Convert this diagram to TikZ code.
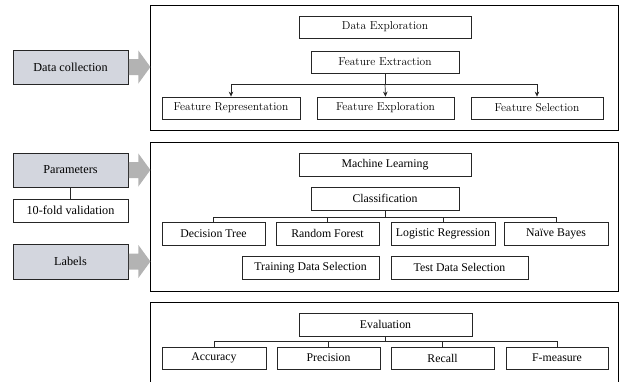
\documentclass[tikz,border=0pt]{standalone}
\usepackage{fontspec}
\newfontfamily\timesf{Liberation Serif}
\usetikzlibrary{calc,arrows.meta}
\begin{document}
\begin{tikzpicture}[x=1pt,y=-1pt,
  panel/.style={draw=black,line width=0.8pt},
  lmbox/.style={draw=black!85,line width=0.8pt,fill=white,inner sep=0pt,minimum height=22pt,font=\fontsize{11.5}{13}\selectfont},
  tbox/.style={draw=black!85,line width=0.8pt,fill=white,inner sep=0pt,minimum height=23pt,font=\timesf\fontsize{11.8}{13}\selectfont},
  graybox/.style={tbox,fill=boxgray,minimum width=115pt,font=\timesf\fontsize{12.2}{14}\selectfont},
  conn/.style={draw=black!85,line width=0.7pt},
  arr/.style={conn,-{Stealth[length=5pt,width=4.5pt]}},
  bigarrow/.style={fill=arrowgray,draw=none}
]
\definecolor{boxgray}{HTML}{D3D6DE}
\definecolor{arrowgray}{HTML}{B3B3B3}
\useasboundingbox (0,0) rectangle (623,381);

% panels
\draw[panel] (150,5) rectangle (618,130);
\draw[panel] (150,142) rectangle (618,291);
\draw[panel] (150,390) -- (150,302) -- (618,302) -- (618,390);

% top panel
\node[lmbox,minimum width=172pt] (de) at (385,27) {Data Exploration};
\node[lmbox,minimum width=148pt] (fx) at (385,62) {Feature Extraction};
\node[lmbox,minimum width=138pt] (fr) at (231,108) {Feature Representation};
\node[lmbox,minimum width=137pt] (fe) at (385.5,108) {Feature Exploration};
\node[lmbox,minimum width=132pt] (fs) at (537,108) {Feature Selection};
\coordinate (fxj) at (385,84);
\draw[conn] (fx.south) -- (fxj);
\draw[arr] (fxj) -| (fr.north);
\draw[arr] (fxj) -- (fe.north);
\draw[arr] (fxj) -| (fs.north);

% middle panel
\node[tbox,minimum width=172pt] (ml) at (385,164.5) {Machine Learning};
\node[tbox,minimum width=148pt] (cl) at (385,198.5) {Classification};
\node[tbox,minimum width=103pt] (dt) at (213.5,233.5) {Decision Tree};
\node[tbox,minimum width=103pt] (rf) at (327.5,233.5) {Random Forest};
\node[tbox,minimum width=104pt] (lr) at (443,233.5) {Logistic Regression};
\node[tbox,minimum width=104pt] (nb) at (556,233.5) {Naïve Bayes};
\node[tbox,minimum width=137pt] (tr) at (310.5,267.5) {Training Data Selection};
\node[tbox,minimum width=137pt] (te) at (459.5,267.5) {Test Data Selection};
\coordinate (clj) at (385,217);
\draw[conn] (cl.south) -- (clj);
\draw[conn] (clj) -| (dt.north);
\draw[conn] (clj) -| (rf.north);
\draw[conn] (clj) -| (lr.north);
\draw[conn] (clj) -| (nb.north);

% bottom panel
\node[tbox,minimum width=173pt] (ev) at (385.5,324.5) {Evaluation};
\node[tbox,minimum width=104pt,minimum height=22pt] (ac) at (214,358) {Accuracy};
\node[tbox,minimum width=103pt,minimum height=22pt] (pr) at (328.5,358) {Precision};
\node[tbox,minimum width=103pt,minimum height=22pt] (re) at (442.5,358) {Recall};
\node[tbox,minimum width=102pt,minimum height=22pt] (fm) at (557,358) {F-measure};
\coordinate (evj) at (385.5,341);
\draw[conn] (ev.south) -- (evj);
\draw[conn] (evj) -| (ac.north);
\draw[conn] (evj) -| (pr.north);
\draw[conn] (evj) -| (re.north);
\draw[conn] (evj) -| (fm.north);

% left inputs
\node[graybox,minimum height=34pt] (dc) at (70.5,67) {Data collection};
\node[graybox,minimum height=34pt] (pa) at (70.5,170) {Parameters};
\node[tbox,minimum width=115pt,font=\timesf\fontsize{12.2}{14}\selectfont] (kf) at (70.5,210.5) {10-fold validation};
\node[graybox,minimum height=35pt] (lb) at (70.5,261.5) {Labels};
\draw[conn] (pa.south) -- (kf.north);

\foreach \n in {dc,pa,lb}{
  \fill[bigarrow] ($(\n.east)+(0.4,-8)$) -- ++(9.6,0) -- ++(0,-8.5) -- ++(12,16.5) -- ++(-12,16.5) -- ++(0,-8.5) -- ++(-9.6,0) -- cycle;
}
\end{tikzpicture}
\end{document}
